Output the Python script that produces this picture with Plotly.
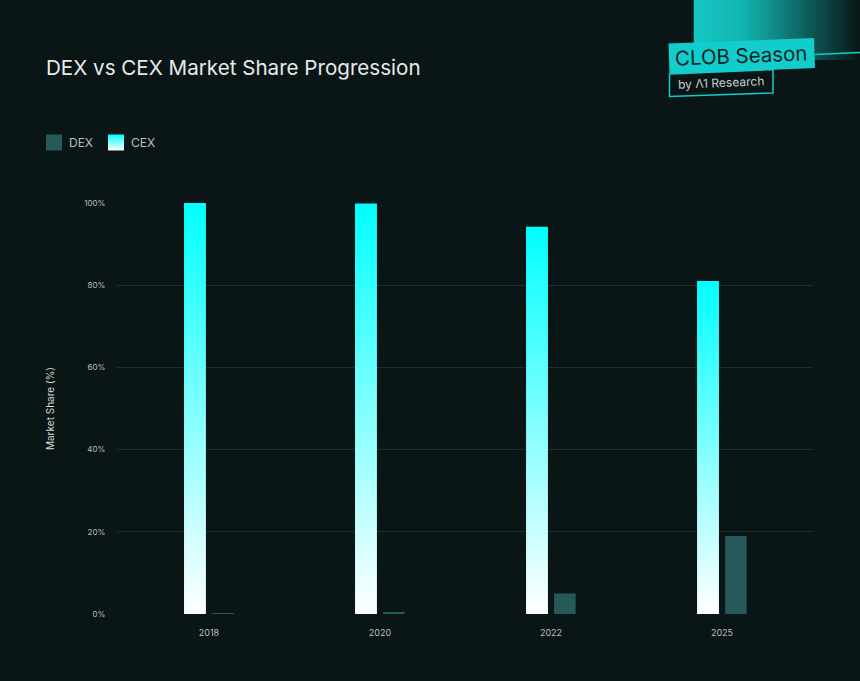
import base64
import plotly.graph_objects as go

years = ["2018", "2020", "2022", "2025"]
dex_share = [0.2, 0.3, 5, 19]
cex_share = [100, 99.9, 94.2, 81]
y_ticks = [0, 20, 40, 60, 80, 100]
y_tick_labels = ["0%", "20%", "40%", "60%", "80%", "100%"]

W, H = 860, 681
L, R, T, B = 117, 813, 203, 614
BG = "#0A1516"
TEAL = "#12CDCB"


def px(x):
    return (x - L) / (R - L)


def py(y):
    return (B - y) / (B - T)


def poly(points):
    return "M" + " L".join(f"{px(x):.5f},{py(y):.5f}" for x, y in points) + " Z"


fig = go.Figure()
fig.add_bar(name="DEX", x=years, y=dex_share, width=0.126, offset=0.018,
            marker=dict(color="#265A5A", line=dict(width=0)))
fig.add_bar(name="CEX", x=years, y=cex_share, width=0.128, offset=-0.146,
            marker=dict(color="#00FFFF", line=dict(width=0)))

svg = ('<svg xmlns="http://www.w3.org/2000/svg" width="167" height="60">'
       '<defs><linearGradient id="c"><stop offset="0" stop-color="#14C8C4"/>'
       '<stop offset="0.3" stop-color="#12B4B1"/>'
       '<stop offset="1" stop-color="#0A1516"/></linearGradient></defs>'
       '<rect width="167" height="60" fill="url(#c)"/></svg>')
src = "data:image/svg+xml;base64," + base64.b64encode(svg.encode()).decode()

fig.update_layout(
    width=W, height=H, barmode="overlay",
    paper_bgcolor=BG, plot_bgcolor=BG,
    margin=dict(l=L, r=W - R, t=T, b=H - B, pad=0),
    font=dict(family="Inter, sans-serif", color="#B8BFBF"),
    title=dict(text="DEX vs CEX Market Share Progression", xref="container", yref="container",
               x=46 / W, xanchor="left", y=1 - 68 / H, yanchor="middle",
               font=dict(size=20.6, color="#E6EBEA", family="Inter, sans-serif")),
    showlegend=True,
    legend=dict(orientation="h", x=px(40), xanchor="left", y=py(128), yanchor="top",
                traceorder="normal", entrywidth=17, entrywidthmode="pixels",
                bgcolor="rgba(0,0,0,0)", font=dict(size=12, color="#B8BFBF")),
    xaxis=dict(type="category", range=[-0.538, 3.532], showgrid=False, zeroline=False,
               showline=False, ticks="outside", ticklen=10, tickcolor="rgba(0,0,0,0)",
               tickfont=dict(size=9, color="#B8BFBF")),
    yaxis=dict(range=[0, 100], tickvals=y_ticks, ticktext=y_tick_labels,
               gridcolor="#1F2E2E", gridwidth=1, zeroline=False, showline=False,
               ticks="outside", ticklen=9, tickcolor="rgba(0,0,0,0)",
               tickfont=dict(size=8, color="#B8BFBF"),
               title=dict(text="Market Share (%)", standoff=27,
                          font=dict(size=10, color="#D5DADA"))),
    images=[dict(source=src, xref="paper", yref="paper", x=px(693.5), y=py(0),
                 sizex=px(860) - px(693.5), sizey=py(0) - py(60),
                 xanchor="left", yanchor="top", sizing="stretch", layer="below")],
    shapes=[
        dict(type="path", xref="paper", yref="paper", layer="above",
             path=poly([(668.5, 43.5), (814, 38), (815, 68), (669.5, 74)]),
             fillcolor=TEAL, line=dict(width=0)),
        dict(type="path", xref="paper", yref="paper", layer="above",
             path=poly([(669.5, 74), (773, 69.5), (773, 93), (669.5, 96.5)]),
             fillcolor=BG, line=dict(color=TEAL, width=1.5)),
        dict(type="line", xref="paper", yref="paper", layer="above",
             x0=px(815), y0=py(54.5), x1=px(860), y1=py(52.5),
             line=dict(color=TEAL, width=1.5)),
    ],
    annotations=[
        dict(text="CLOB Season", xref="paper", yref="paper", x=px(741), y=py(55.5),
             showarrow=False, textangle=-2.3, xanchor="center", yanchor="middle",
             font=dict(size=20.4, color="#0A2426", family="Inter, sans-serif")),
        dict(text="by \u039b1 Research", xref="paper", yref="paper", x=px(721), y=py(83),
             showarrow=False, textangle=-2.3, xanchor="center", yanchor="middle",
             font=dict(size=12, color="#C5CCCC", family="Inter, sans-serif")),
    ],
)

post = """
document.body.style.margin = '0';
document.body.style.background = '#0A1516';
var gd = document.getElementById('{plot_id}');
var ns = 'http://www.w3.org/2000/svg';
var svg = gd.querySelector('svg.main-svg');
var defs = svg.querySelector('defs');
var g = document.createElementNS(ns, 'linearGradient');
g.setAttribute('id', 'cexGrad');
g.setAttribute('x1', '0'); g.setAttribute('y1', '0');
g.setAttribute('x2', '0'); g.setAttribute('y2', '1');
[['0', '#00FFFF'], ['1', '#FFFFFF']].forEach(function (s) {
  var st = document.createElementNS(ns, 'stop');
  st.setAttribute('offset', s[0]); st.setAttribute('stop-color', s[1]);
  g.appendChild(st);
});
defs.appendChild(g);
var traces = gd.querySelectorAll('.barlayer .trace');
traces[1].querySelectorAll('path').forEach(function (p) { p.style.fill = 'url(#cexGrad)'; });
var leg = gd.querySelectorAll('.legend .traces');
leg.forEach(function (t, i) {
  var p = t.querySelector('.legendpoints path');
  if (p) {
    p.setAttribute('transform', 'translate(14,0) scale(1.33)');
    if (i === 1) { p.style.fill = 'url(#cexGrad)'; }
  }
  var txt = t.querySelector('text.legendtext');
  if (txt) { txt.setAttribute('x', String(parseFloat(txt.getAttribute('x')) - 11)); }
});
"""

fig.write_html("out.html", post_script=post, config={"displayModeBar": False})
